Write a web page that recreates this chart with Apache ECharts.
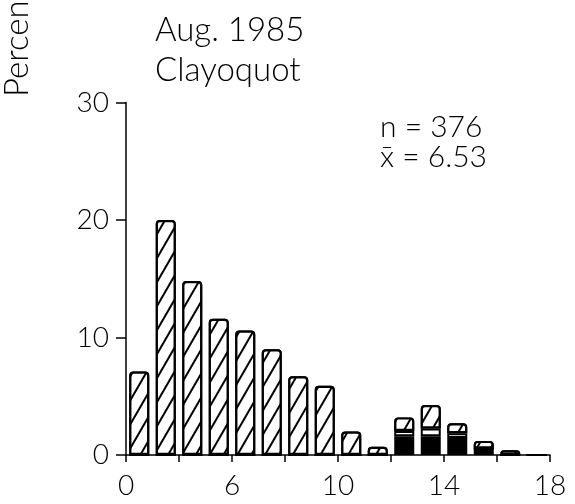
<!DOCTYPE html>
<html>
<head>
<meta charset="utf-8">
<script src="https://cdn.jsdelivr.net/npm/echarts@6/dist/echarts.min.js"></script>
<style>
html,body{margin:0;padding:0;background:#fff;}
#chart{width:575px;height:504px;}
</style>
</head>
<body>
<div id="chart"></div>
<script>
// bins (index positions along the x axis); the last bin is empty
var bins = ['0','1','2','3','4','5','6','7','8','9','10','11','12','13','14','15'];
// stacked segments (percent)
var blackVals   = [0,0,0,0,0,0,0,0,0,0,1.6,1.6,1.45,0.55,0,0];
var whiteVals   = [0,0,0,0,0,0,0,0,0,0,0.45,0.65,0.4,0,0,0];
var hatchedVals = [7.1,20,14.8,11.6,10.6,9.0,6.7,5.9,2.0,0.7,1.15,2.0,0.85,0.65,0.4,0];
// x tick positions (bin boundaries) and their labels
var xTickValues = [0,2,4,6,8,10,12,14,16];
var xTickLabels = ['0','','6','','10','','14','','18'];

var FONT = 'Lato';
var W = 300;

var chart = echarts.init(document.getElementById('chart'));
var barBase = {type:'bar', stack:'all', barWidth:20, silent:true, xAxisIndex:0};
chart.setOption({
  animation:false,
  backgroundColor:'#fff',
  grid:{left:126, right:25, top:102.5, bottom:49, containLabel:false},
  xAxis:[{
    type:'category', data:bins, boundaryGap:true, show:false, position:'bottom'
  },{
    type:'value', min:0, max:16, interval:2, position:'bottom',
    axisLine:{show:true, lineStyle:{color:'#000', width:1.5}},
    axisTick:{show:true, length:7, lineStyle:{color:'#000', width:1.5}},
    splitLine:{show:false},
    axisLabel:{
      margin:17, color:'#000', fontFamily:FONT, fontWeight:W, fontSize:28,
      formatter:function(v){ var k = xTickValues.indexOf(v); return k>=0 ? xTickLabels[k] : ''; }
    }
  }],
  yAxis:{
    type:'value', min:0, max:30, interval:10,
    axisLine:{show:true, lineStyle:{color:'#000', width:1.5}},
    axisTick:{show:true, length:10, lineStyle:{color:'#000', width:1.5}},
    splitLine:{show:false},
    axisLabel:{margin:17, color:'#000', fontFamily:FONT, fontWeight:W, fontSize:28}
  },
  graphic:[
    {type:'text', x:17, y:97, rotation:Math.PI/2, style:{text:'Percent', font:W+' 33px "Lato"', fill:'#000', align:'left', verticalAlign:'middle'}},
    {type:'text', x:155, y:30, style:{text:'Aug. 1985', font:W+' 33px "Lato"', fill:'#000', align:'left', verticalAlign:'middle'}},
    {type:'text', x:155, y:70, style:{text:'Clayoquot', font:W+' 33px "Lato"', fill:'#000', align:'left', verticalAlign:'middle'}},
    {type:'text', x:380, y:127, style:{text:'n = 376', font:W+' 30px "Lato"', fill:'#000', align:'left', verticalAlign:'middle'}},
    {type:'text', x:380, y:157, style:{text:'x\u0304 = 6.53', font:W+' 30px "Lato"', fill:'#000', align:'left', verticalAlign:'middle'}}
  ],
  series:[
    Object.assign({}, barBase, {name:'black', data:blackVals, itemStyle:{color:'#000', borderColor:'#000', borderWidth:2, borderRadius:0}}),
    Object.assign({}, barBase, {name:'white', data:whiteVals, itemStyle:{color:'#fff', borderColor:'#000', borderWidth:2, borderRadius:0}}),
    Object.assign({}, barBase, {name:'hatched', data:hatchedVals, itemStyle:{
      color:'#fff', borderColor:'#000', borderWidth:2.2, borderRadius:[3,3,0,0],
      decal:{symbol:'rect', symbolSize:1, color:'#000', backgroundColor:'#fff', dashArrayX:[1,0], dashArrayY:[1.4,10], rotation:-Math.PI/3}
    }})
  ]
});
</script>
</body>
</html>
